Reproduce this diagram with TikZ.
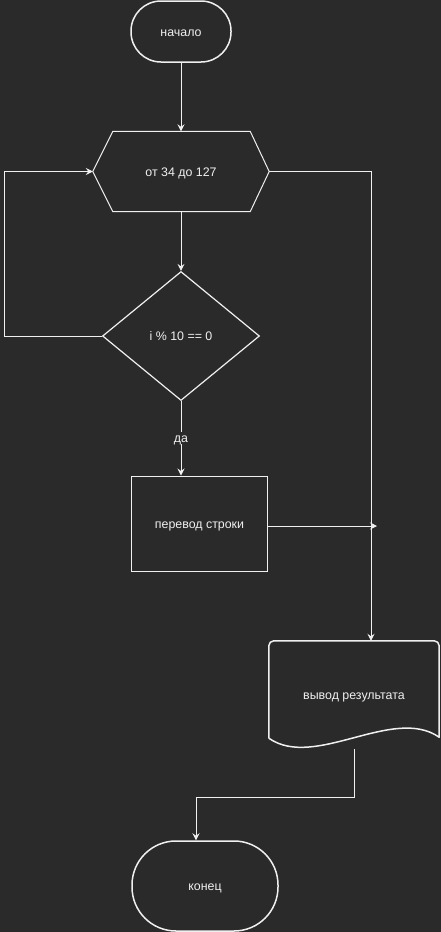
\documentclass[tikz,border=0pt]{standalone}
\usepackage{fontspec}
\setmainfont{Liberation Sans}
\usetikzlibrary{arrows.meta,shapes.geometric,calc}
\definecolor{bgdark}{HTML}{2A2A2A}
\definecolor{ink}{HTML}{F0F0F0}
\begin{document}
\begin{tikzpicture}[x=1pt,y=-1pt,
  every node/.style={text=ink,font=\fontsize{12.4}{14}\selectfont,inner sep=0pt,
    text height=9pt,text depth=0pt},
  terminal/.style={draw=ink,line width=1.5pt,rectangle},
  procbox/.style={draw=ink,line width=1pt,rectangle},
  decision/.style={draw=ink,line width=1.2pt,diamond},
  plain/.style={draw=none,rectangle},
  outline/.style={draw=ink,line width=1pt,line join=round},
  conn/.style={draw=ink,line width=0.9pt},
  arr/.style={conn,-{Stealth[length=7pt,width=7pt,inset=2.5pt]}}]
  % canvas
  \fill[bgdark] (0,0) rectangle (441,932);
  \useasboundingbox (0,0) rectangle (441,932);

  % start / end terminals
  \node[terminal,minimum width=100pt,minimum height=61pt,rounded corners=30pt]
    (start) at (181,31.5) {начало};
  \node[terminal,minimum width=146pt,minimum height=90pt,rounded corners=44pt]
    (finish) at (205,886) {конец};

  % loop header (hexagon)
  \node[plain,minimum width=176pt,minimum height=80pt] (loop) at (181,171.5) {от 34 до 127};
  \draw[outline] (loop.west) -- ($(loop.north west)+(20,0)$) -- ($(loop.north east)+(-19,0)$)
    -- (loop.east) -- ($(loop.south east)+(-19,0)$) -- ($(loop.south west)+(20,0)$) -- cycle;

  % condition
  \node[decision,minimum width=157pt,minimum height=129pt] (cond) at (181,336) {i \% 10 == 0};

  % line feed
  \node[procbox,minimum width=135.5pt,minimum height=95pt] (feed) at (199.5,523.5) {перевод строки};

  % output document
  \node[plain,minimum width=170pt,minimum height=108pt] (out) at (354,695) {вывод результата};
  \draw[outline,line width=1.5pt]
    ($(out.south west)+(0,-11)$) -- ($(out.north west)+(0,5)$)
    arc[start angle=180,end angle=270,radius=5]
    -- ($(out.north east)+(-5,0)$)
    arc[start angle=270,end angle=360,radius=5]
    -- ($(out.south east)+(0,-12)$)
    .. controls ($(out.south east)+(-46,-44)$) and ($(out.south west)+(46,21)$)
    .. ($(out.south west)+(0,-11)$);

  % connectors
  \coordinate (rightjoin) at (377,526);
  \draw[arr] (start.south) -- (loop.north);
  \draw[arr] (loop.south) -- (cond.north);
  \draw[arr] (cond.west) -- ++(-97,0) |- (loop.west);
  \draw[arr] (loop.east) -| ([xshift=17pt]out.north);
  \draw[arr] (cond.south) -- node[fill=bgdark,inner sep=1.5pt,pos=0.49] (yes) {да}
    ([xshift=-18.5pt]feed.north);
  \draw[arr] ([yshift=-2.5pt]feed.east) -- (rightjoin);
  \draw[arr] (out.south) -- ++(0,48) -| ([xshift=-9pt]finish.north);
\end{tikzpicture}
\end{document}
